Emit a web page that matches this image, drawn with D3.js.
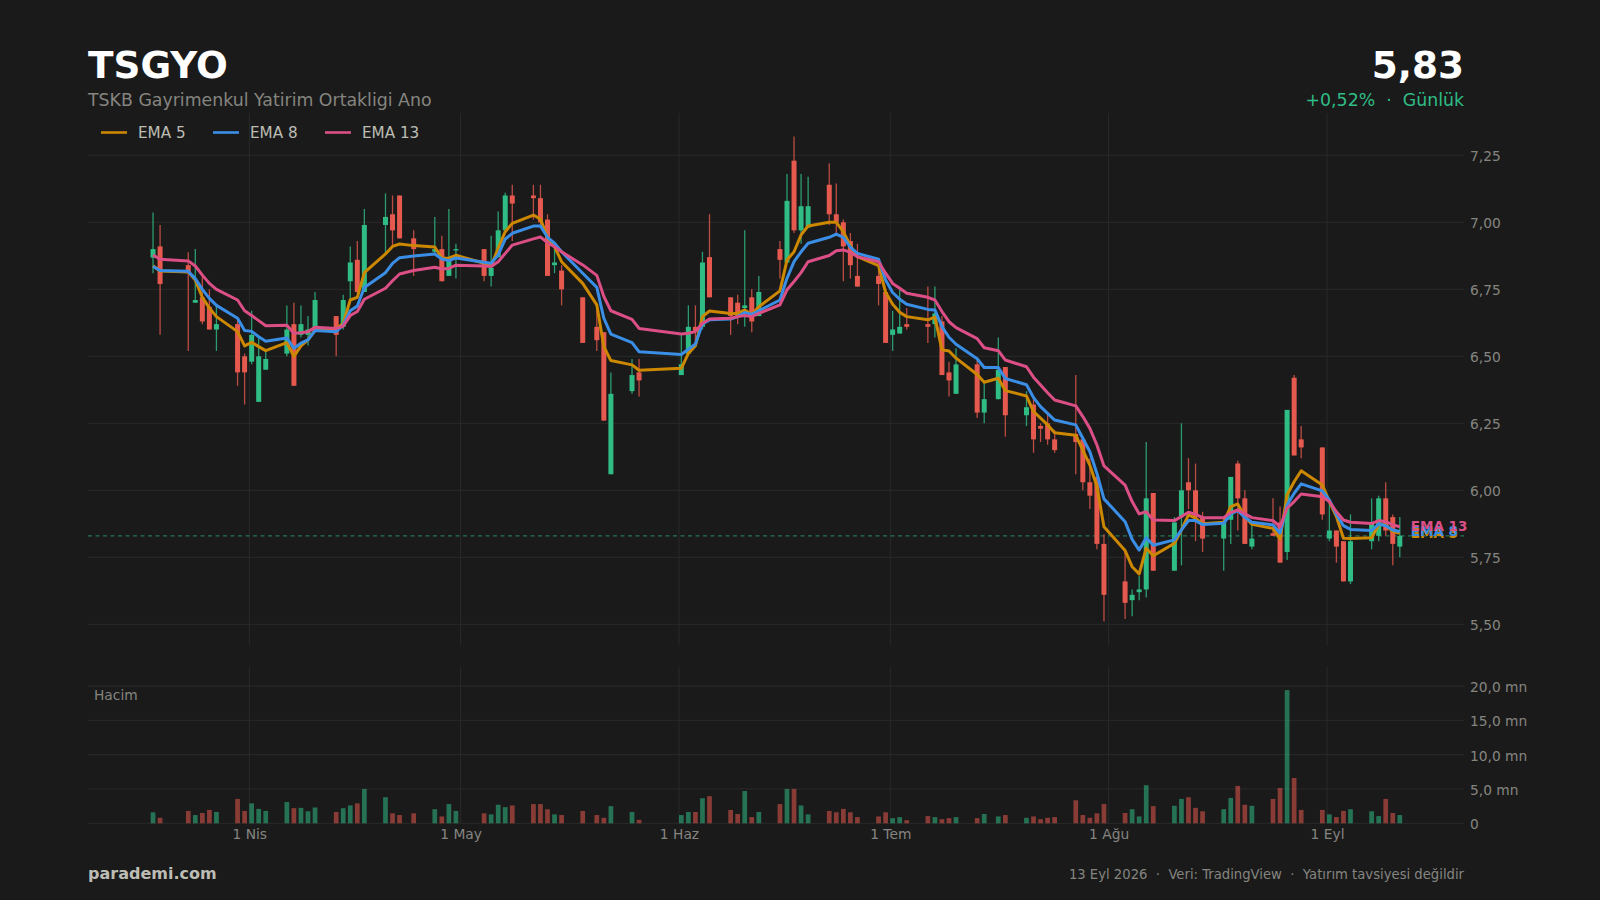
<!DOCTYPE html>
<html>
<head>
<meta charset="utf-8">
<script src="https://cdn.jsdelivr.net/npm/d3@7"></script>
<style>
html, body { margin: 0; padding: 0; background: #1a1a1a; }
svg { display: block; font-family: "DejaVu Sans", sans-serif; }
</style>
</head>
<body>
<div id="chart"></div>
<script>
// one row per trading week
var dates = [
  "2026-03-18","2026-03-19",
  "2026-03-23","2026-03-24","2026-03-25","2026-03-26","2026-03-27",
  "2026-03-30","2026-03-31","2026-04-01","2026-04-02","2026-04-03",
  "2026-04-06","2026-04-07","2026-04-08","2026-04-09","2026-04-10",
  "2026-04-13","2026-04-14","2026-04-15","2026-04-16","2026-04-17",
  "2026-04-20","2026-04-21","2026-04-22","2026-04-24",
  "2026-04-27","2026-04-28","2026-04-29","2026-04-30",
  "2026-05-04","2026-05-05","2026-05-06","2026-05-07","2026-05-08",
  "2026-05-11","2026-05-12","2026-05-13","2026-05-14","2026-05-15",
  "2026-05-18","2026-05-20","2026-05-21","2026-05-22",
  "2026-05-25","2026-05-26",
  "2026-06-01","2026-06-02","2026-06-03","2026-06-04","2026-06-05",
  "2026-06-08","2026-06-09","2026-06-10","2026-06-11","2026-06-12",
  "2026-06-15","2026-06-16","2026-06-17","2026-06-18","2026-06-19",
  "2026-06-22","2026-06-23","2026-06-24","2026-06-25","2026-06-26",
  "2026-06-29","2026-06-30","2026-07-01","2026-07-02","2026-07-03",
  "2026-07-06","2026-07-07","2026-07-08","2026-07-09","2026-07-10",
  "2026-07-13","2026-07-14","2026-07-16","2026-07-17",
  "2026-07-20","2026-07-21","2026-07-22","2026-07-23","2026-07-24",
  "2026-07-27","2026-07-28","2026-07-29","2026-07-30","2026-07-31",
  "2026-08-03","2026-08-04","2026-08-05","2026-08-06","2026-08-07",
  "2026-08-10","2026-08-11","2026-08-12","2026-08-13","2026-08-14",
  "2026-08-17","2026-08-18","2026-08-19","2026-08-20","2026-08-21",
  "2026-08-24","2026-08-25","2026-08-26","2026-08-27","2026-08-28",
  "2026-08-31","2026-09-01","2026-09-02","2026-09-03","2026-09-04",
  "2026-09-07","2026-09-08","2026-09-09","2026-09-10","2026-09-11"
];
var opens = [
  6.868,6.91,
  6.84,6.70,6.72,6.685,6.60,
  6.62,6.50,6.48,6.33,6.45,
  6.51,6.62,6.58,6.58,6.60,
  6.65,6.61,6.78,6.86,6.74,
  6.99,7.03,7.10,6.94,
  6.89,6.90,6.80,6.895,
  6.90,6.80,6.87,6.97,7.10,
  7.10,7.09,7.01,6.84,6.82,
  6.72,6.61,6.59,6.06,
  6.37,6.44,
  6.43,6.51,6.61,6.61,6.87,
  6.72,6.70,6.68,6.72,6.65,
  6.90,6.85,7.23,6.97,6.98,
  7.14,7.03,7.00,6.93,6.80,
  6.80,6.74,6.58,6.585,6.62,
  6.62,6.62,6.63,6.44,6.36,
  6.47,6.29,6.34,6.46,
  6.28,6.32,6.24,6.25,6.19,
  6.21,6.19,6.03,6.05,5.80,
  5.66,5.59,5.62,5.63,5.99,
  5.70,5.90,6.03,6.00,5.90,
  5.82,5.89,6.10,5.97,5.79,
  5.84,5.88,5.77,6.42,6.19,
  6.16,5.82,5.85,5.81,5.66,
  5.81,5.83,5.97,5.90,5.79
];
var highs = [
  7.037,6.99,
  6.888,6.90,6.80,6.75,6.69,
  6.635,6.51,6.67,6.57,6.52,
  6.69,6.70,6.69,6.65,6.74,
  6.65,6.73,6.91,6.93,7.05,
  7.108,7.10,7.10,6.97,
  7.02,6.95,7.05,6.92,
  6.90,6.95,7.04,7.11,7.14,
  7.14,7.14,7.03,6.91,6.84,
  6.72,6.685,6.59,6.44,
  6.49,6.49,
  6.58,6.69,6.69,6.89,7.03,
  6.72,6.73,6.97,6.75,6.80,
  6.93,7.18,7.32,7.18,7.17,
  7.22,7.145,7.01,6.96,6.92,
  6.83,6.75,6.67,6.75,6.68,
  6.76,6.76,6.65,6.48,6.53,
  6.49,6.40,6.57,6.46,
  6.37,6.34,6.25,6.285,6.225,
  6.43,6.19,6.12,6.05,5.836,
  5.78,5.63,5.68,6.18,5.99,
  5.90,6.25,6.12,6.10,5.92,
  5.89,6.05,6.11,6.00,5.87,
  5.97,5.94,6.30,6.43,6.24,
  6.16,5.95,5.85,5.81,5.91,
  5.97,5.98,6.03,5.91,5.90
];
var lows = [
  6.81,6.58,
  6.52,6.70,6.62,6.60,6.52,
  6.39,6.32,6.47,6.33,6.45,
  6.50,6.39,6.57,6.54,6.60,
  6.50,6.60,6.71,6.735,6.74,
  6.885,6.91,6.94,6.80,
  6.88,6.78,6.80,6.79,
  6.78,6.76,6.87,6.97,6.93,
  7.01,6.98,6.80,6.81,6.69,
  6.55,6.52,6.26,6.06,
  6.36,6.35,
  6.43,6.51,6.54,6.60,6.72,
  6.58,6.62,6.61,6.59,6.65,
  6.79,6.85,6.96,6.92,6.98,
  6.99,6.96,6.78,6.79,6.76,
  6.69,6.55,6.52,6.585,6.60,
  6.55,6.57,6.43,6.35,6.36,
  6.27,6.25,6.34,6.20,
  6.24,6.14,6.18,6.17,6.14,
  6.06,6.00,5.93,5.78,5.51,
  5.52,5.53,5.59,5.60,5.70,
  5.70,5.72,5.93,5.81,5.77,
  5.70,5.80,5.85,5.80,5.78,
  5.83,5.73,5.74,6.13,6.12,
  5.89,5.81,5.73,5.66,5.65,
  5.78,5.81,5.83,5.72,5.75
];
var closes = [
  6.90,6.77,
  6.81,6.71,6.63,6.60,6.62,
  6.44,6.44,6.58,6.50,6.49,
  6.60,6.39,6.62,6.60,6.71,
  6.58,6.71,6.85,6.74,6.99,
  7.02,6.97,6.94,6.90,
  6.90,6.78,6.86,6.90,
  6.80,6.83,6.97,7.10,7.07,
  7.09,7.00,6.80,6.85,6.75,
  6.55,6.56,6.26,6.36,
  6.43,6.41,
  6.47,6.61,6.595,6.85,6.72,
  6.65,6.65,6.69,6.63,6.74,
  6.86,7.08,6.97,7.06,7.06,
  7.03,7.00,6.91,6.84,6.76,
  6.77,6.55,6.60,6.61,6.61,
  6.61,6.66,6.43,6.41,6.47,
  6.29,6.34,6.45,6.28,
  6.31,6.19,6.23,6.19,6.15,
  6.18,6.03,5.98,5.80,5.61,
  5.58,5.61,5.63,5.97,5.70,
  5.88,6.00,6.00,5.90,5.82,
  5.88,6.05,5.97,5.80,5.82,
  5.83,5.73,6.30,6.13,6.16,
  5.91,5.85,5.79,5.66,5.81,
  5.88,5.97,5.85,5.80,5.83
];
var ema5 = [
  6.838,6.818,
  6.815,6.785,6.72,6.68,6.648,
  6.592,6.539,6.552,6.536,6.521,
  6.551,6.50,6.539,6.561,6.598,
  6.603,6.623,6.71,6.72,6.812,
  6.882,6.91,6.919,6.913,
  6.908,6.866,6.866,6.877,
  6.847,6.837,6.903,6.965,6.996,
  7.027,7.012,6.944,6.909,6.853,
  6.772,6.692,6.536,6.484,
  6.468,6.448,
  6.455,6.511,6.539,6.648,6.669,
  6.66,6.66,6.673,6.657,6.685,
  6.744,6.859,6.89,6.953,6.986,
  7.0,7.0,6.965,6.912,6.872,
  6.838,6.739,6.694,6.664,6.648,
  6.636,6.646,6.524,6.52,6.493,
  6.432,6.403,6.418,6.372,
  6.352,6.294,6.269,6.244,6.215,
  6.205,6.15,6.094,6.014,5.864,
  5.775,5.715,5.688,5.784,5.756,
  5.802,5.852,5.908,5.896,5.875,
  5.881,5.939,5.949,5.902,5.873,
  5.858,5.818,5.983,6.032,6.073,
  6.02,5.958,5.902,5.821,5.82,
  5.823,5.871,5.871,5.846,5.84
];
var ema8 = [
  6.835,6.82,
  6.817,6.79,6.75,6.716,6.69,
  6.642,6.596,6.593,6.573,6.556,
  6.568,6.53,6.549,6.561,6.596,
  6.592,6.617,6.67,6.688,6.757,
  6.812,6.847,6.868,6.874,
  6.882,6.863,6.857,6.867,
  6.851,6.847,6.878,6.937,6.959,
  6.986,6.986,6.944,6.922,6.89,
  6.81,6.757,6.642,6.583,
  6.551,6.517,
  6.507,6.526,6.546,6.621,6.636,
  6.639,6.648,6.663,6.657,6.67,
  6.71,6.791,6.853,6.89,6.922,
  6.944,6.956,6.944,6.907,6.884,
  6.862,6.785,6.738,6.713,6.694,
  6.675,6.673,6.611,6.571,6.545,
  6.491,6.458,6.458,6.417,
  6.394,6.346,6.312,6.287,6.262,
  6.244,6.194,6.144,6.063,5.968,
  5.883,5.817,5.777,5.823,5.795,
  5.815,5.852,5.887,5.887,5.872,
  5.877,5.912,5.924,5.899,5.881,
  5.871,5.84,5.945,5.989,6.024,
  5.998,5.964,5.91,5.868,5.854,
  5.85,5.874,5.868,5.852,5.846
];
var ema13 = [
  6.878,6.862,
  6.856,6.837,6.803,6.772,6.75,
  6.71,6.67,6.652,6.633,6.614,
  6.616,6.586,6.588,6.592,6.608,
  6.604,6.613,6.652,6.667,6.713,
  6.754,6.782,6.807,6.82,
  6.832,6.826,6.828,6.84,
  6.837,6.835,6.853,6.884,6.915,
  6.938,6.945,6.924,6.909,6.89,
  6.841,6.802,6.723,6.67,
  6.638,6.604,
  6.583,6.586,6.592,6.623,6.639,
  6.642,6.648,6.652,6.648,6.66,
  6.692,6.748,6.779,6.812,6.853,
  6.876,6.894,6.897,6.888,6.872,
  6.853,6.81,6.772,6.754,6.735,
  6.72,6.71,6.667,6.629,6.607,
  6.566,6.532,6.521,6.486,
  6.461,6.422,6.393,6.364,6.337,
  6.315,6.275,6.231,6.169,6.091,
  6.019,5.958,5.912,5.92,5.889,
  5.887,5.902,5.918,5.91,5.898,
  5.898,5.917,5.927,5.912,5.898,
  5.887,5.864,5.933,5.958,5.986,
  5.976,5.958,5.92,5.889,5.881,
  5.876,5.887,5.883,5.871,5.864
];
// millions of lots
var volumes = [
  1.6,0.8,
  1.8,1.2,1.5,1.95,1.65,
  3.55,1.8,2.9,2.1,1.8,
  3.1,2.2,2.25,1.75,2.3,
  1.65,2.2,2.6,2.9,5.0,
  3.8,1.45,1.2,1.45,
  2.05,1.0,2.8,1.8,
  1.45,1.3,2.7,2.35,2.6,
  2.8,2.8,2.05,1.3,1.2,
  1.8,1.2,0.8,2.5,
  1.65,0.5,
  1.2,1.65,1.65,3.65,3.95,
  1.95,1.35,4.7,0.9,1.65,
  2.8,5.0,5.0,2.6,1.3,
  1.8,1.6,2.1,1.6,0.9,
  1.0,1.6,0.75,0.9,0.45,
  1.05,0.9,0.6,0.75,0.9,
  0.75,1.35,1.0,1.2,
  0.8,1.0,0.6,0.8,0.9,
  3.35,1.2,0.8,1.45,2.8,
  1.5,2.05,1.0,5.55,2.5,
  2.55,3.55,3.8,2.25,1.75,
  2.05,3.7,5.45,2.7,2.55,
  3.55,5.15,19.4,6.6,1.95,
  1.95,1.3,0.9,1.8,2.05,
  1.75,1.05,3.55,1.5,1.2
];

var priceTicks = [5.5, 5.75, 6, 6.25, 6.5, 6.75, 7, 7.25];
var priceLabels = ["5,50", "5,75", "6,00", "6,25", "6,50", "6,75", "7,00", "7,25"];
var volumeTicks = [0, 5, 10, 15, 20];
var volumeLabels = ["0", "5,0 mn", "10,0 mn", "15,0 mn", "20,0 mn"];
var monthTicks = ["2026-04-01", "2026-05-01", "2026-06-01", "2026-07-01", "2026-08-01", "2026-09-01"];
var monthLabels = ["1 Nis", "1 May", "1 Haz", "1 Tem", "1 Ağu", "1 Eyl"];
var lastPrice = 5.83;

var GREEN = "#2fbd85", RED = "#e5594e", GRID = "#2a2a2a", MUTED = "#858580";

var left = 88, right = 1464;
var svg = d3.select("#chart").append("svg").attr("width", 1600).attr("height", 900);
svg.append("rect").attr("width", 1600).attr("height", 900).attr("fill", "#1a1a1a");

var x = d3.scaleUtc()
  .domain([new Date("2026-03-09T03:25:00Z"), new Date("2026-09-20T11:45:00Z")])
  .range([left + 0.3, right + 0.3]);
var y = d3.scaleLinear().domain([5.5, 7]).range([624.3, 222.3]);
var yTop = 113, yBottom = 645;
var v = d3.scaleLinear().domain([0, 20]).range([823.3, 686]);
var vTop = 667, vBottom = 823.3;

// bars sit a few hours into the day
function barX(d) { return x(new Date(d + "T08:00:00Z")); }
function tickX(d) { return x(new Date(d + "T00:00:00Z")); }

// grid
function drawGrid(ticks, scale, top, bottom) {
  svg.append("g").selectAll("line").data(ticks).enter().append("line")
    .attr("x1", left).attr("x2", right)
    .attr("y1", function(d) { return scale(d); }).attr("y2", function(d) { return scale(d); })
    .attr("stroke", GRID).attr("stroke-width", 1);
  svg.append("g").selectAll("line").data(monthTicks).enter().append("line")
    .attr("x1", tickX).attr("x2", tickX)
    .attr("y1", top).attr("y2", bottom)
    .attr("stroke", GRID).attr("stroke-width", 1);
}
drawGrid(priceTicks, y, yTop, yBottom);
drawGrid(volumeTicks, v, vTop, vBottom);

// last price
svg.append("line")
  .attr("x1", left).attr("x2", right)
  .attr("y1", y(lastPrice)).attr("y2", y(lastPrice))
  .attr("stroke", GREEN).attr("stroke-opacity", 0.55)
  .attr("stroke-width", 1.2).attr("stroke-dasharray", "4,3.5");

// candles
var idx = d3.range(dates.length);
function isUp(i) { return closes[i] >= opens[i]; }
function candleColor(i) { return isUp(i) ? GREEN : RED; }

svg.append("g").selectAll("line").data(idx).enter().append("line")
  .attr("x1", function(i) { return barX(dates[i]); })
  .attr("x2", function(i) { return barX(dates[i]); })
  .attr("y1", function(i) { return y(highs[i]); })
  .attr("y2", function(i) { return y(lows[i]); })
  .attr("stroke", candleColor).attr("stroke-width", 1.3).attr("stroke-opacity", 0.8);

svg.append("g").selectAll("rect").data(idx).enter().append("rect")
  .attr("x", function(i) { return barX(dates[i]) - 2.5; })
  .attr("width", 5)
  .attr("y", function(i) { return y(Math.max(opens[i], closes[i])); })
  .attr("height", function(i) { return Math.max(1, Math.abs(y(opens[i]) - y(closes[i]))); })
  .attr("fill", candleColor);

// ema lines
var emaSeries = [
  { name: "EMA 5", values: ema5, color: "#cc8800" },
  { name: "EMA 8", values: ema8, color: "#3a8ee6" },
  { name: "EMA 13", values: ema13, color: "#db4f86" }
];
var line = d3.line()
  .x(function(d, i) { return barX(dates[i]); })
  .y(function(d) { return y(d); });

emaSeries.forEach(function(s) {
  svg.append("path").datum(s.values)
    .attr("d", line).attr("fill", "none")
    .attr("stroke", s.color).attr("stroke-width", 3).attr("stroke-linejoin", "round");
});
emaSeries.forEach(function(s) {
  svg.append("text")
    .attr("x", barX(dates[dates.length - 1]) + 11)
    .attr("y", y(s.values[s.values.length - 1]))
    .attr("dy", "0.35em")
    .attr("fill", s.color).attr("font-size", 13.5).attr("font-weight", "bold")
    .text(s.name);
});

// volume
svg.append("g").selectAll("rect").data(idx).enter().append("rect")
  .attr("x", function(i) { return barX(dates[i]) - 2.35; })
  .attr("width", 4.7)
  .attr("y", function(i) { return v(volumes[i]); })
  .attr("height", function(i) { return v(0) - v(volumes[i]); })
  .attr("fill", candleColor).attr("fill-opacity", 0.55);

// axes
function styleAxis(g) {
  g.select(".domain").remove();
  g.selectAll(".tick line").remove();
  g.selectAll("text").attr("fill", MUTED).attr("font-size", 13.8)
    .attr("font-family", '"DejaVu Sans", sans-serif');
}
svg.append("g").attr("transform", "translate(1470,0.5)")
  .call(d3.axisRight(y).tickValues(priceTicks).tickSize(0).tickPadding(0)
    .tickFormat(function(d, i) { return priceLabels[i]; }))
  .call(styleAxis);
svg.append("g").attr("transform", "translate(1470,1)")
  .call(d3.axisRight(v).tickValues(volumeTicks).tickSize(0).tickPadding(0)
    .tickFormat(function(d, i) { return volumeLabels[i]; }))
  .call(styleAxis);
svg.append("g").attr("transform", "translate(0,829.5)")
  .call(d3.axisBottom(x).tickValues(monthTicks.map(function(d) { return new Date(d + "T00:00:00Z"); }))
    .tickSize(0).tickPadding(0)
    .tickFormat(function(d, i) { return monthLabels[i]; }))
  .call(styleAxis);

svg.append("text").attr("x", 94).attr("y", 700)
  .attr("fill", MUTED).attr("font-size", 13.8).text("Hacim");

// legend
var legendX = [101, 213, 325];
emaSeries.forEach(function(s, i) {
  svg.append("line")
    .attr("x1", legendX[i]).attr("x2", legendX[i] + 26)
    .attr("y1", 132.5).attr("y2", 132.5)
    .attr("stroke", s.color).attr("stroke-width", 2.6);
  svg.append("text").attr("x", legendX[i] + 37).attr("y", 138)
    .attr("fill", "#bdbdb5").attr("font-size", 15.2).text(s.name);
});

// header
svg.append("text").attr("x", 88).attr("y", 78)
  .attr("fill", "#ffffff").attr("font-size", 37.4).attr("font-weight", "bold").text("TSGYO");
svg.append("text").attr("x", 88).attr("y", 106)
  .attr("fill", MUTED).attr("font-size", 17.35).text("TSKB Gayrimenkul Yatirim Ortakligi Ano");
svg.append("text").attr("x", right).attr("y", 78).attr("text-anchor", "end")
  .attr("fill", "#ffffff").attr("font-size", 37.4).attr("font-weight", "bold").text("5,83");
svg.append("text").attr("x", right).attr("y", 106).attr("text-anchor", "end")
  .attr("fill", GREEN).attr("font-size", 17.35).attr("xml:space", "preserve").text("+0,52%  ·  Günlük");

// footer
svg.append("text").attr("x", 88).attr("y", 879)
  .attr("fill", "#bdbdb5").attr("font-size", 16).attr("font-weight", "bold").text("parademi.com");
svg.append("text").attr("x", right).attr("y", 879).attr("text-anchor", "end")
  .attr("fill", MUTED).attr("font-size", 13.2).attr("xml:space", "preserve")
  .text("13 Eyl 2026  ·  Veri: TradingView  ·  Yatırım tavsiyesi değildir");
</script>
</body>
</html>
